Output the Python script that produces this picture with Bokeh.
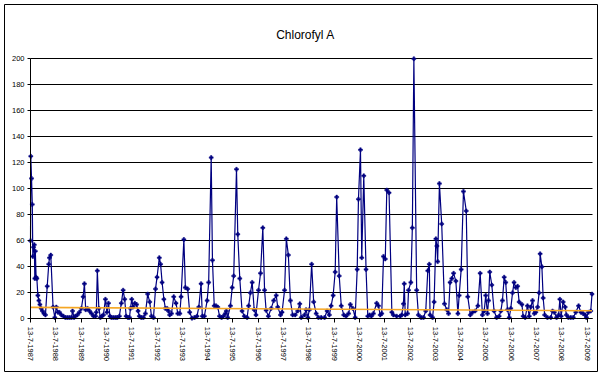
import numpy as np
from bokeh.plotting import figure
from bokeh.models import Range1d, FixedTicker, LinearAxis, Grid, Label
from bokeh.embed import file_html
from bokeh.resources import INLINE

title_text = "Chlorofyl A"
tick_years = list(range(1987, 2010))
tick_labels = [f"13-7-{y}" for y in tick_years]
y_ticks = list(range(0, 201, 20))

# sample dates (decimal years) and chlorophyll-a values
dates = [
    1987.53, 1987.54, 1987.57, 1987.60, 1987.62, 1987.65, 1987.68, 1987.70, 1987.72, 1987.75,
    1987.78, 1987.82, 1987.86, 1987.90, 1987.95, 1988.00, 1988.06, 1988.12, 1988.19, 1988.25,
    1988.28, 1988.33, 1988.42, 1988.49,
    1988.55, 1988.61, 1988.67, 1988.75, 1988.83, 1988.91, 1988.99, 1989.07, 1989.15, 1989.19,
    1989.25, 1989.30, 1989.38, 1989.46, 1989.54, 1989.61, 1989.66, 1989.71, 1989.78, 1989.86,
    1989.94, 1990.02, 1990.10, 1990.13, 1990.17, 1990.23, 1990.29, 1990.35, 1990.41, 1990.49,
    1990.55, 1990.61, 1990.67, 1990.73, 1990.81, 1990.89, 1990.96, 1991.04, 1991.12, 1991.19,
    1991.25, 1991.31, 1991.38, 1991.44, 1991.48, 1991.53, 1991.58, 1991.65, 1991.72, 1991.78,
    1991.83, 1991.91, 1991.99,
    1992.07, 1992.16, 1992.24, 1992.31, 1992.39, 1992.47, 1992.53, 1992.62, 1992.67, 1992.73,
    1992.80, 1992.86, 1992.93, 1992.98, 1993.03, 1993.10, 1993.19, 1993.28, 1993.35, 1993.43,
    1993.48, 1993.59, 1993.65, 1993.74, 1993.82, 1993.91, 1994.01, 1994.11, 1994.18, 1994.27,
    1994.32, 1994.40, 1994.51, 1994.57, 1994.67,
    1994.72, 1994.79, 1994.86, 1994.93, 1995.00, 1995.08, 1995.15, 1995.23, 1995.27, 1995.32,
    1995.43, 1995.50, 1995.56, 1995.67, 1995.72, 1995.80, 1995.89, 1995.98, 1996.09, 1996.15,
    1996.22, 1996.29, 1996.37, 1996.44, 1996.54, 1996.62, 1996.71, 1996.78, 1996.84, 1996.93,
    1997.04, 1997.14, 1997.24, 1997.30, 1997.41, 1997.47, 1997.57, 1997.64, 1997.72, 1997.80,
    1997.89, 1997.99, 1998.09, 1998.17, 1998.23, 1998.36, 1998.42, 1998.49, 1998.55, 1998.64,
    1998.72, 1998.82, 1998.91, 1999.02, 1999.15, 1999.25, 1999.34, 1999.41, 1999.49, 1999.57,
    1999.63, 1999.73, 1999.81, 1999.91, 2000.00, 2000.10, 2000.17, 2000.27, 2000.36, 2000.44,
    2000.49, 2000.57, 2000.62, 2000.70, 2000.79, 2000.86,
    2000.93, 2001.00, 2001.08, 2001.21, 2001.28, 2001.35, 2001.41, 2001.48, 2001.55, 2001.61,
    2001.70, 2001.81, 2001.87, 2002.00, 2002.14, 2002.20, 2002.27, 2002.30, 2002.34, 2002.43,
    2002.47, 2002.56, 2002.62, 2002.68, 2002.79, 2002.86, 2002.97, 2003.06, 2003.15, 2003.23,
    2003.29, 2003.32, 2003.42, 2003.48, 2003.55, 2003.59, 2003.62, 2003.69, 2003.78, 2003.89,
    2003.98, 2004.05, 2004.11, 2004.18, 2004.25, 2004.34, 2004.42, 2004.47, 2004.55, 2004.64,
    2004.75, 2004.81, 2004.91, 2005.00, 2005.10, 2005.21, 2005.30,
    2005.39, 2005.46, 2005.52, 2005.59, 2005.63, 2005.68, 2005.76, 2005.85, 2005.95, 2006.05,
    2006.12, 2006.18, 2006.25, 2006.31, 2006.38, 2006.45, 2006.51, 2006.58, 2006.64, 2006.71,
    2006.78, 2006.84, 2006.95, 2007.00, 2007.08, 2007.17, 2007.24, 2007.30, 2007.37, 2007.44,
    2007.50, 2007.57, 2007.63, 2007.67, 2007.74, 2007.79, 2007.85, 2007.96, 2008.09, 2008.16,
    2008.23, 2008.32, 2008.40, 2008.45, 2008.50, 2008.58, 2008.66, 2008.71, 2008.79, 2008.88,
    2008.98, 2009.08, 2009.19, 2009.28, 2009.37, 2009.45, 2009.50, 2009.58, 2009.67, 2009.72,
]

chl = [
    60, 125, 108, 88, 48, 55, 57, 31, 52, 32,
    31, 18, 14, 11, 8, 6, 4, 3, 25, 42,
    47, 49, 9, 1,
    9, 5, 5, 3, 2, 1, 1, 1, 1, 6,
    1, 2, 3, 5, 8, 17, 27, 7, 8, 6,
    4, 2, 2, 5, 37, 8, 1, 2, 3, 15,
    5, 12, 2, 1, 1, 1, 1, 2, 12, 22,
    15, 2, 1, 1, 8, 15, 9, 12, 11, 6,
    2, 1, 1,
    4, 19, 13, 2, 1, 23, 32, 47, 42, 28,
    15, 8, 8, 6, 3, 4, 17, 12, 4, 4,
    17, 61, 24, 23, 5, 0.5, 1, 2, 9, 27,
    2, 2, 14, 28, 124,
    45, 10, 10, 9, 2, 1, 2, 4, 6, 1,
    10, 24, 33, 115, 65, 31, 6, 2, 1, 10,
    20, 28, 7, 3, 22, 35, 70, 22, 6.5, 2,
    8, 14, 18, 9, 3, 5, 22, 61.5, 49, 14,
    3, 3, 6, 11.5, 1, 3, 7, 1, 7, 42,
    13, 4, 1, 1, 1, 6, 3, 10, 18, 36,
    93.6, 33, 10, 3, 2, 4, 11, 8, 1, 38,
    92, 130, 47, 110, 38, 2,
    3, 2, 4, 12, 10, 3, 4, 48, 46, 99,
    97, 5, 3, 2, 2, 3, 11.5, 27, 3, 4,
    22, 28, 70, 200, 22, 3, 1, 1, 6, 37,
    42, 3, 1, 13, 61.5, 56, 44, 104, 73, 11.5,
    7, 4, 28, 31, 35, 29, 4, 18, 38, 98,
    83, 17, 3, 5, 6, 10, 35,
    3, 6, 18, 4, 14, 36, 26, 6, 1, 2,
    6, 14, 32, 28, 7, 1, 8, 20, 28, 24,
    25, 13, 11, 2, 1, 10, 2, 9, 14, 4,
    5, 9, 20, 50, 40, 16, 3, 1, 1, 6,
    5, 1, 3, 15, 2, 13, 9, 3, 1, 1,
    1, 5, 10, 5, 4, 3, 1, 5, 6, 19,
]

# linear trend line end values
trend_values = [8.8, 6.2]

assert len(dates) == len(chl)

origin = 1987 + 193 / 365.0  # 13 July 1987
x = np.array(dates) - origin
y = np.array(chl, dtype=float)
x_end = float(x[-1])

font = "Liberation Sans"

# The frame is the bordered chart area; the plot area sits inside it and
# the axes are placed at fixed data locations with bounds.
px_per_year = (591.5 - 30.0) / x_end
px_per_unit = (318.3 - 58.3) / 200.0
x_lo = -(30.0 - 4.0) / px_per_year
x_hi = x_end + (597.0 - 591.5) / px_per_year
y_lo = -(371.0 - 318.3) / px_per_unit
y_hi = 200.0 + (58.3 - 4.0) / px_per_unit

p = figure(
    width=607, height=377,
    output_backend="svg", toolbar_location=None,
    x_range=Range1d(x_lo, x_hi), y_range=Range1d(y_lo, y_hi),
    x_axis_location=None, y_axis_location=None,
    min_border_left=4, min_border_right=10, min_border_top=4, min_border_bottom=6,
    background_fill_color="white", border_fill_color="white",
)
p.outline_line_color = "black"
p.outline_line_width = 1
for g in p.grid:
    g.visible = False

yaxis = LinearAxis(
    ticker=FixedTicker(ticks=y_ticks), fixed_location=0, bounds=(0, 200),
    axis_line_color="black", major_tick_line_color="black",
    major_tick_out=3, major_tick_in=0, minor_tick_line_color=None,
    major_label_text_font=font, major_label_text_font_size="7.5px",
    major_label_text_color="black", major_label_standoff=3,
)
p.add_layout(yaxis, "left")

xaxis = LinearAxis(
    ticker=FixedTicker(ticks=list(range(len(tick_years)))), fixed_location=0,
    bounds=(0, x_end),
    major_label_overrides={i: lab for i, lab in enumerate(tick_labels)},
    major_label_orientation="vertical",
    axis_line_color="black", major_tick_line_color="black",
    major_tick_out=4, major_tick_in=0, minor_tick_line_color=None,
    major_label_text_font=font, major_label_text_font_size="7.5px",
    major_label_text_color="black", major_label_standoff=4,
)
p.add_layout(xaxis, "below")

grid = Grid(dimension=1, ticker=FixedTicker(ticks=y_ticks), bounds=(0, 200),
            cross_bounds=(0, x_end), grid_line_color="black", grid_line_width=1)
p.add_layout(grid, "center")

p.line(x, y, line_color="#000080", line_width=1.2)
p.scatter(x, y, marker="plus", size=4, fill_color="#000080", line_color="#000080", line_width=0.5)

p.line([x[0], x[-1]], trend_values, line_color="#F5A623", line_width=1.6)

title = Label(x=(305.0 - 30.0) / px_per_year, y=(318.3 - 34.5) / px_per_unit,
              text=title_text, text_font=font, text_font_size="12px",
              text_align="center", text_baseline="middle", text_color="black")
p.add_layout(title)

open("out.html", "w").write(file_html(p, INLINE))
